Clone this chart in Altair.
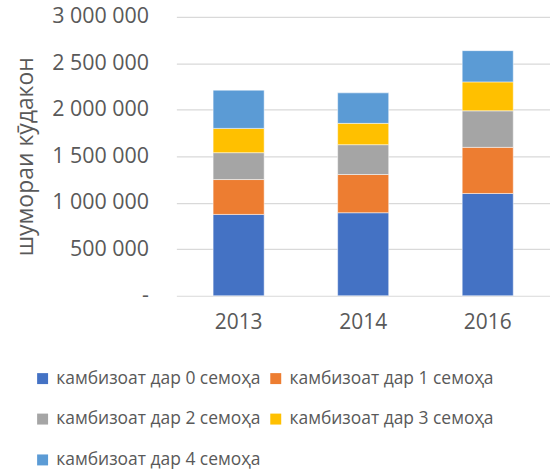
import altair as alt
import pandas as pd

years = ["2013", "2014", "2016"]
series = [
    "камбизоат дар 0 семоҳа",
    "камбизоат дар 1 семоҳа",
    "камбизоат дар 2 семоҳа",
    "камбизоат дар 3 семоҳа",
    "камбизоат дар 4 семоҳа",
]
s0 = [875000, 893000, 1100000]
s1 = [375000, 411000, 496000]
s2 = [289000, 321000, 393000]
s3 = [261000, 229000, 311000]
s4 = [411000, 328000, 336000]
colors = ["#4472C4", "#ED7D31", "#A5A5A5", "#FFC000", "#5B9BD5"]

rows = []
for i, (name, vals) in enumerate(zip(series, [s0, s1, s2, s3, s4])):
    for y, v in zip(years, vals):
        rows.append({"year": y, "series": name, "idx": i, "value": v})
df = pd.DataFrame(rows)

# legend fills column-major; reorder domain so it reads row by row
leg_order = [0, 2, 4, 1, 3]
leg_domain = [series[i] for i in leg_order]
leg_range = [colors[i] for i in leg_order]

FONT = "Open Sans"
TXT = "#595959"

chart = alt.Chart(df).mark_bar(stroke="white", strokeWidth=0.5).encode(
    x=alt.X("year:N", title=None,
            scale=alt.Scale(paddingInner=0.59, paddingOuter=0.295),
            axis=alt.Axis(labelAngle=0, labelFontSize=21, labelColor=TXT, labelFont=FONT,
                          domain=False, ticks=False, labelPadding=16)),
    y=alt.Y("value:Q", title="шумораи кӯдакон",
            scale=alt.Scale(domain=[0, 3000000]),
            axis=alt.Axis(values=[0, 500000, 1000000, 1500000, 2000000, 2500000, 3000000],
                          labelExpr="datum.value == 0 ? '-' : replace(format(datum.value, ','), /,/g, ' ')",
                          labelFontSize=21.5, labelColor=TXT, labelFont=FONT,
                          titleFontSize=23, titleColor=TXT, titleFont=FONT, titleFontWeight="normal",
                          titlePadding=14, labelPadding=28,
                          domain=False, ticks=False,
                          gridColor="#D9D9D9", gridWidth=1.2)),
    color=alt.Color("series:N",
                    scale=alt.Scale(domain=leg_domain, range=leg_range),
                    legend=alt.Legend(title=None, orient="none", legendX=-143, legendY=354,
                                      columns=2, symbolType="square", symbolSize=121,
                                      symbolStrokeWidth=0, labelFontSize=17.5, labelColor=TXT,
                                      labelFont=FONT, rowPadding=22, columnPadding=6,
                                      labelLimit=400, labelOffset=5)),
    order=alt.Order("idx:Q", sort="ascending"),
).properties(
    width=375, height=280,
    padding={"left": 14, "top": 5, "right": 0, "bottom": 0},
).configure_view(stroke=None)

chart.save("out.html", embed_options={"renderer": "svg", "actions": False})
